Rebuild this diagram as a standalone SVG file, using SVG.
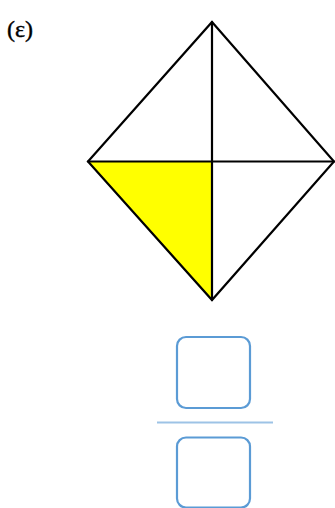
<svg xmlns="http://www.w3.org/2000/svg" width="335" height="508" viewBox="0 0 335 508">
<style>
.lbl{font-family:"Liberation Serif","DejaVu Serif",serif;font-size:24px;fill:#000;stroke:#000;stroke-width:0.4}
.edge{stroke:#000;stroke-width:2.2;fill:none;stroke-linecap:round}
.box{fill:#fff;stroke:#5b9bd5;stroke-width:2.2}
</style>
<rect width="335" height="508" fill="#fff"/>
<text class="lbl" x="7" y="37">(ε)</text>
<g id="shaded">
<polygon points="88,161.5 212,161.5 212,300" fill="#ffff00"/>
</g>
<g id="connectors">
<polygon class="edge" points="212,22 334,161.5 212,300 88,161.5"/>
<line class="edge" x1="212" y1="22" x2="212" y2="300"/>
<line class="edge" x1="88" y1="161.5" x2="334" y2="161.5"/>
</g>
<g id="numerator"><rect class="box" x="177" y="337" width="73" height="71" rx="9"/></g>
<line x1="157" y1="422.5" x2="273" y2="422.5" stroke="#9dc3e6" stroke-width="1.8"/>
<g id="denominator"><rect class="box" x="177" y="437.5" width="73" height="70" rx="9"/></g>
</svg>
